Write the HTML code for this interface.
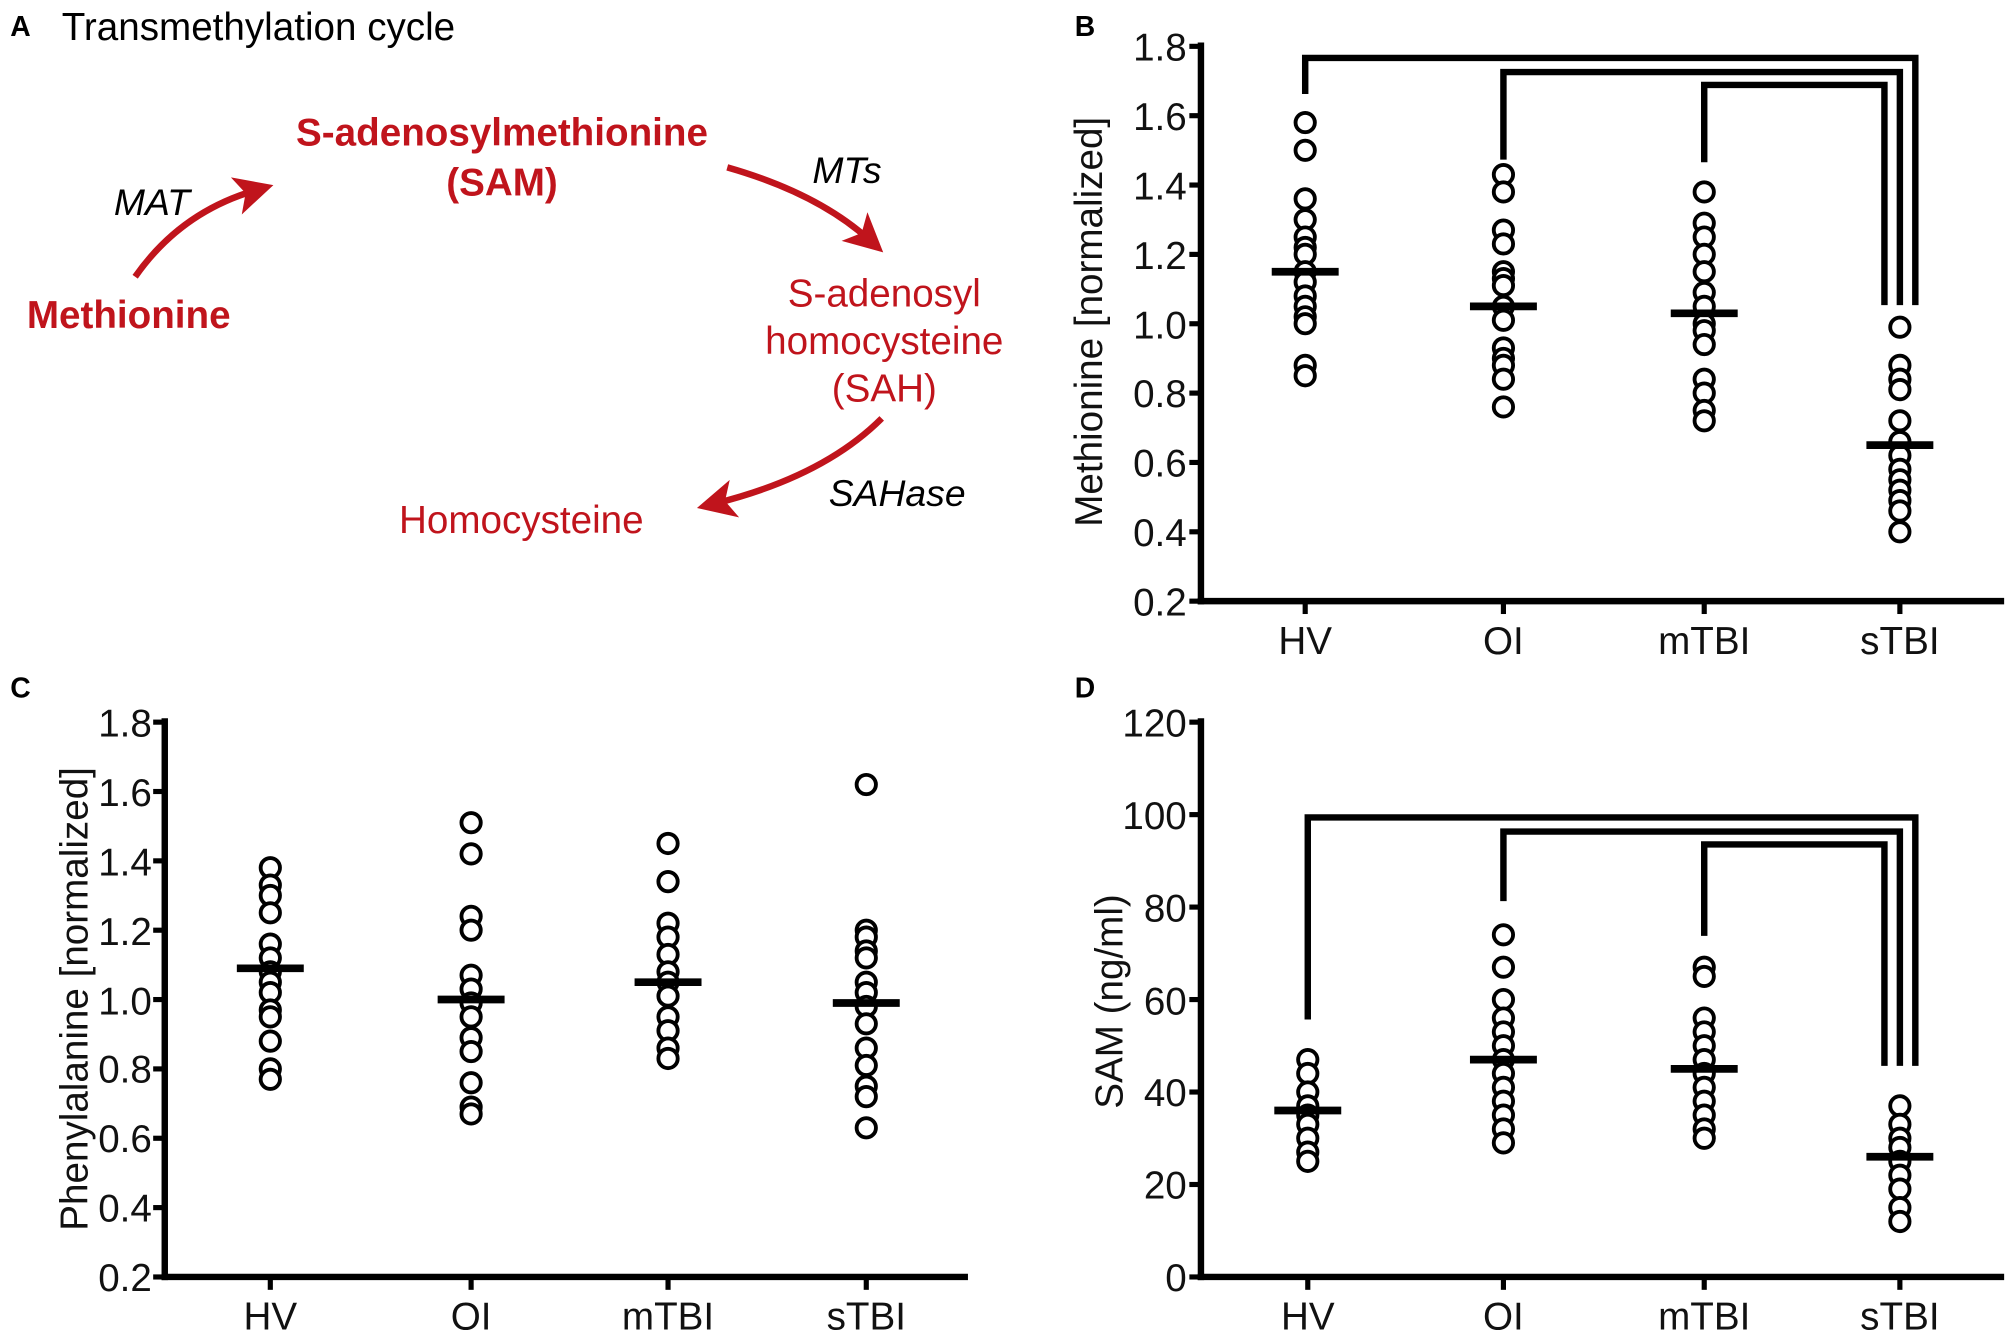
<!DOCTYPE html>
<html><head><meta charset="utf-8"><style>
html,body{margin:0;padding:0;background:#fff;}
svg{display:block;font-family:"Liberation Sans",Arial,sans-serif;}
.t{font-size:30px;fill:#111;}
.r{fill:#c0141c;font-size:30px;}
</style></head><body>
<svg id="s" width="2008" height="1343" viewBox="0 0 1560 1043.3" preserveAspectRatio="none" xmlns="http://www.w3.org/2000/svg">
<defs><marker id="ah" markerWidth="6" markerHeight="6" refX="3" refY="3" orient="auto" markerUnits="strokeWidth"><path d="M0,0 L6,3 L0,6 L1.5,3 z" fill="#c0141c"/></marker></defs>
<!-- Panel A -->
<text x="8" y="28" font-weight="bold" font-size="22">A</text>
<text x="48" y="31" font-size="30">Transmethylation cycle</text>
<text class="r" x="390" y="113" text-anchor="middle" font-weight="bold">S-adenosylmethionine</text>
<text class="r" x="390" y="152" text-anchor="middle" font-weight="bold">(SAM)</text>
<text class="r" x="100" y="255" text-anchor="middle" font-weight="bold">Methionine</text>
<text x="118" y="167" text-anchor="middle" font-style="italic" font-size="29">MAT</text>
<text x="658" y="142" text-anchor="middle" font-style="italic" font-size="29">MTs</text>
<text class="r" x="687" y="238" text-anchor="middle">S-adenosyl</text>
<text class="r" x="687" y="275" text-anchor="middle">homocysteine</text>
<text class="r" x="687" y="312" text-anchor="middle">(SAH)</text>
<text class="r" x="405" y="414" text-anchor="middle">Homocysteine</text>
<text x="697" y="393" text-anchor="middle" font-style="italic" font-size="29">SAHase</text>
<g fill="none" stroke="#c0141c" stroke-width="5">
<path d="M105,215 Q140,165 198,148" marker-end="url(#ah)"/>
<path d="M565,130 Q635,150 675,186" marker-end="url(#ah)"/>
<path d="M685,325 Q640,370 556,391" marker-end="url(#ah)"/>
</g>
<text x="835" y="28" font-weight="bold" font-size="22">B</text>
<text x="8" y="542" font-weight="bold" font-size="22">C</text>
<text x="835" y="542" font-weight="bold" font-size="22">D</text>
<!-- axis labels -->
<text class="t" transform="translate(856,250) rotate(-90)" text-anchor="middle">Methionine [normalized]</text>
<text class="t" transform="translate(68,776) rotate(-90)" text-anchor="middle">Phenylalanine [normalized]</text>
<text class="t" transform="translate(872,778) rotate(-90)" text-anchor="middle">SAM (ng/ml)</text>
<g class="t" text-anchor="end">
<text x="922" y="47">1.8</text><text x="922" y="101">1.6</text><text x="922" y="155">1.4</text><text x="922" y="209">1.2</text><text x="922" y="263">1.0</text><text x="922" y="316">0.8</text><text x="922" y="370">0.6</text><text x="922" y="424">0.4</text><text x="922" y="478">0.2</text>
<text x="118" y="572">1.8</text><text x="118" y="626">1.6</text><text x="118" y="680">1.4</text><text x="118" y="734">1.2</text><text x="118" y="788">1.0</text><text x="118" y="841">0.8</text><text x="118" y="895">0.6</text><text x="118" y="949">0.4</text><text x="118" y="1003">0.2</text>
<text x="922" y="572">120</text><text x="922" y="644">100</text><text x="922" y="716">80</text><text x="922" y="788">60</text><text x="922" y="859">40</text><text x="922" y="931">20</text><text x="922" y="1003">0</text>
</g>
<g class="t" text-anchor="middle">
<text x="1014" y="508">HV</text><text x="1168" y="508">OI</text><text x="1324" y="508">mTBI</text><text x="1476" y="508">sTBI</text>
<text x="210" y="1033">HV</text><text x="366" y="1033">OI</text><text x="519" y="1033">mTBI</text><text x="673" y="1033">sTBI</text>
<text x="1016" y="1033">HV</text><text x="1168" y="1033">OI</text><text x="1324" y="1033">mTBI</text><text x="1476" y="1033">sTBI</text>
</g>
<g id="g" fill="none" stroke="#000"></g>
</svg>
<script>
var g=document.getElementById('g'),NS='http://www.w3.org/2000/svg';
function el(n,a){var e=document.createElementNS(NS,n);for(var k in a)e.setAttribute(k,a[k]);g.appendChild(e);return e;}
function line(x1,y1,x2,y2,w){el('line',{x1:x1,y1:y1,x2:x2,y2:y2,'stroke-width':w||5});}
function panel(ax,top,bot,right,nt,cats,fy,data,means){
 line(ax,top-3,ax,bot+2.5,5);line(ax-2.5,bot,right,bot,5);
 for(var i=0;i<nt;i++){var y=top+(bot-top)*i/(nt-1);line(ax-9,y,ax,y,4);}
 cats.forEach(function(cx,j){line(cx,bot,cx,bot+10,4);
  data[j].forEach(function(v){el('circle',{cx:cx,cy:fy(v),r:7.5,'stroke-width':3,fill:'#fff'});});
  line(cx-26,fy(means[j]),cx+26,fy(means[j]),6);});
}
var fB=function(v){return 467-(v-0.2)*269.4;},fC=function(v){return 992-(v-0.2)*269.4;},fD=function(v){return 992-v*3.592;};
panel(933,36,467,1557,9,[1014,1168,1324,1476],fB,[
[1.58,1.50,1.36,1.30,1.25,1.22,1.20,1.15,1.12,1.08,1.05,1.02,1.00,0.88,0.85],
[1.43,1.38,1.27,1.23,1.15,1.13,1.11,1.05,1.01,0.93,0.90,0.88,0.84,0.76],
[1.38,1.29,1.25,1.20,1.15,1.09,1.05,1.00,0.98,0.94,0.84,0.80,0.75,0.72],
[0.99,0.88,0.84,0.81,0.72,0.66,0.62,0.58,0.55,0.52,0.49,0.46,0.40]],[1.15,1.05,1.03,0.65]);
panel(128,561,992,752,9,[210,366,519,673],fC,[
[1.38,1.33,1.30,1.25,1.16,1.12,1.08,1.05,1.02,0.97,0.95,0.88,0.80,0.77],
[1.51,1.42,1.24,1.20,1.07,1.03,0.99,0.95,0.89,0.85,0.76,0.69,0.67],
[1.45,1.34,1.22,1.18,1.13,1.08,1.05,1.01,0.95,0.91,0.86,0.83],
[1.62,1.20,1.18,1.14,1.12,1.05,1.02,0.98,0.93,0.86,0.81,0.75,0.72,0.63]],[1.09,1.00,1.05,0.99]);
panel(933,561,992,1557,7,[1016,1168,1324,1476],fD,[
[47,44,40,37,35,33,30,27,25],
[74,67,60,56,53,50,47,44,41,38,35,32,29],
[67,65,56,53,50,47,44,41,38,35,32,30],
[37,33,30,28,25,22,19,15,12]],[36,47,45,26]);
function br(xl,yt,yl,xr,yr){el('polyline',{points:xl+','+yl+' '+xl+','+yt+' '+xr+','+yt+' '+xr+','+yr,'stroke-width':5,'stroke-linejoin':'miter'});}
br(1014,45,73,1488,237);br(1168,56,124,1476,237);br(1324,66,126,1464,237);
br(1016,635,792,1488,828);br(1168,646,700,1476,828);br(1324,656,727,1464,828);
</script>
</body></html>
